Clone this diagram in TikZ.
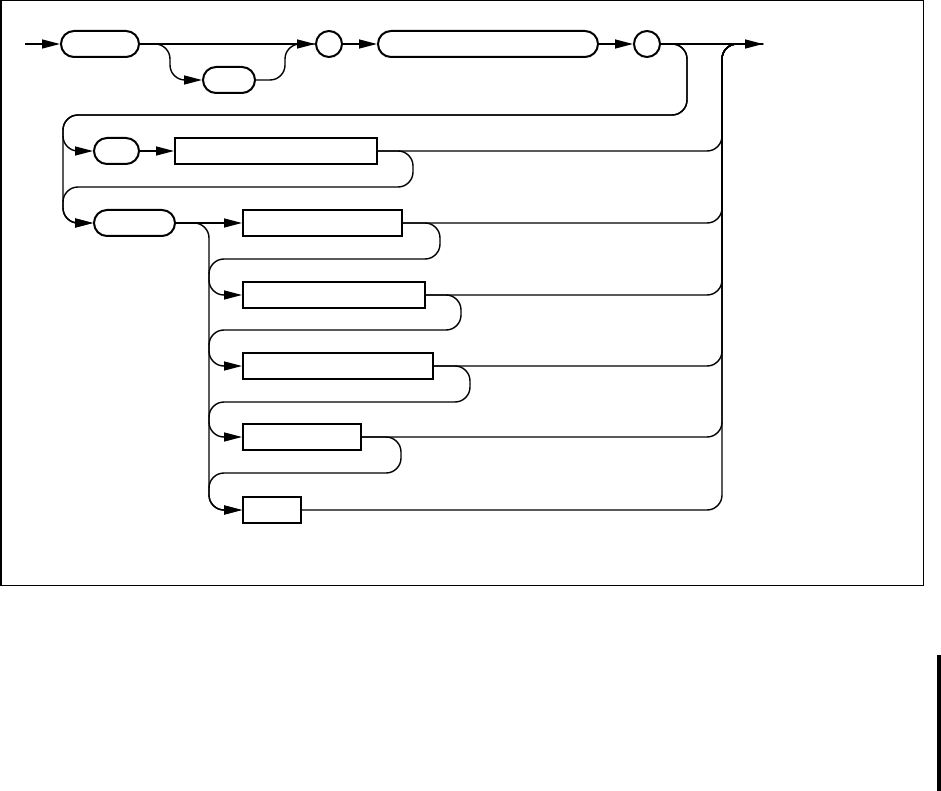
\documentclass[tikz,border=0pt]{standalone}
\usetikzlibrary{arrows.meta}
\begin{document}
\begin{tikzpicture}[x=1pt,y=-1pt,
  ln/.style={line width=1.4pt, rounded corners=15pt},
  arr/.style={ln, -{Triangle[length=18pt,width=9pt]}},
  pill/.style={draw, line width=2pt, rounded corners=13pt, minimum height=26pt, inner sep=0pt},
  rbox/.style={draw, line width=2pt, minimum height=26pt, inner sep=0pt},
  circ/.style={draw, circle, line width=2pt, minimum size=26pt, inner sep=0pt}]
\useasboundingbox (0,0) rectangle (941,791);
\draw[line width=1.5pt] (0.75,0.75) rectangle (923.5,585.5);
\fill (937,655) rectangle (941,791);

% nodes
\node[pill, minimum width=78pt] (b1) at (100,44) {};
\node[pill, minimum width=52pt] (b2) at (229,80) {};
\node[circ] (c1) at (329,44) {};
\node[pill, minimum width=220pt] (b3) at (488,44) {};
\node[circ] (c2) at (647,44) {};
\node[pill, minimum width=45pt] (b4) at (116.5,151) {};
\node[rbox, minimum width=202pt] (r1) at (276,151) {};
\node[pill, minimum width=81pt] (b5) at (134.5,223) {};
\node[rbox, minimum width=159pt] (r2) at (322.5,223) {};
\node[rbox, minimum width=182pt] (r3) at (334,295) {};
\node[rbox, minimum width=190pt] (r4) at (338,366) {};
\node[rbox, minimum width=118pt] (r5) at (302,437) {};
\node[rbox, minimum width=58pt] (r6) at (272,510) {};
\coordinate (s) at (25,44);
\coordinate (e) at (763,44);

% top row
\draw[arr] (s) -- (b1.west);
\draw[arr] (b1.east) -- (c1.west);
\draw[arr] (b1.east) -- (170,44) -- (170,80) -- (b2.west);
\draw[ln] (b2.east) -- (285,80) -- (285,44) -- (c1.west);
\draw[arr] (c1.east) -- (b3.west);
\draw[arr] (b3.east) -- (c2.west);
\draw[arr] (c2.east) -- (e);

% loop back
\draw[arr] (c2.east) -- (687,44) -- (687,115) -- (63,115) -- (63,151) -- (b4.west);
\draw[arr] (c2.east) -- (687,44) -- (687,115) -- (63,115) -- (63,223) -- (b5.west);
\draw[arr] (b4.east) -- (r1.west);
\draw[arr] (r1.east) -- (413,151) -- (413,187) -- (63,187) -- (63,223) -- (b5.west);

% lower options
\draw[arr] (b5.east) -- (r2.west);
\draw[arr] (b5.east) -- (209,223) -- (209,510) -- (r6.west);
\draw[arr] (r2.east) -- (440,223) -- (440,259) -- (209,259) -- (209,295) -- (r3.west);
\draw[arr] (r3.east) -- (461,295) -- (461,330) -- (209,330) -- (209,366) -- (r4.west);
\draw[arr] (r4.east) -- (470,366) -- (470,402) -- (209,402) -- (209,437) -- (r5.west);
\draw[arr] (r5.east) -- (401,437) -- (401,473) -- (209,473) -- (209,510) -- (r6.west);

% exits
\foreach \n in {r1,r2,r3,r4,r5,r6}
  \draw[ln] (\n.east) -- (\n.east -| 722,0) -- (722,44) -- (e);
\end{tikzpicture}
\end{document}
